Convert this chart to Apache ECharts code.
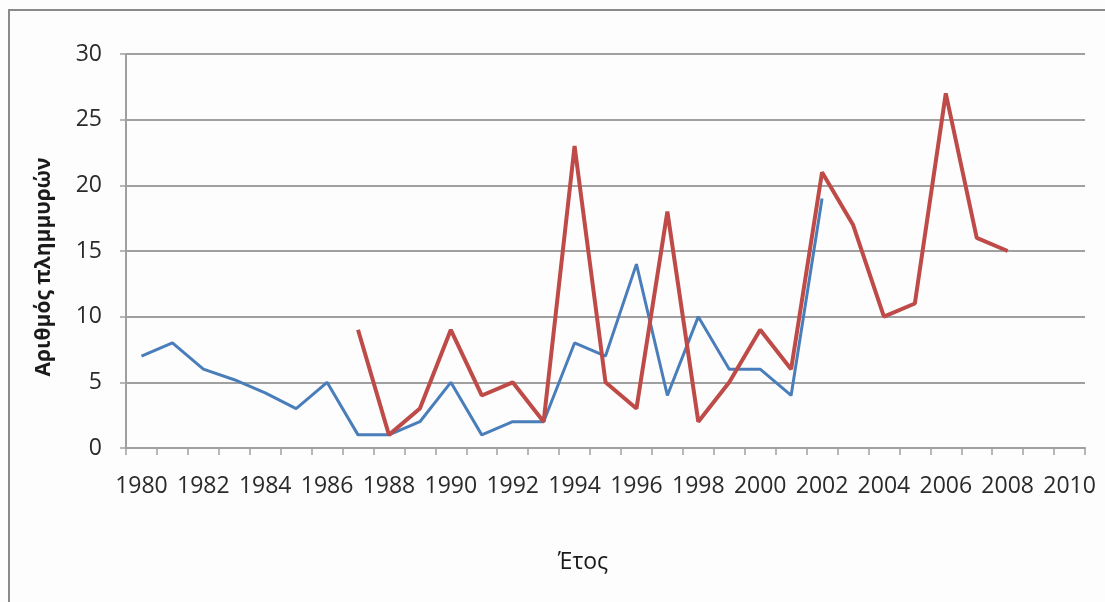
<!DOCTYPE html>
<html>
<head>
<meta charset="utf-8">
<script src="https://cdn.jsdelivr.net/npm/echarts@6/dist/echarts.min.js"></script>
<style>html,body{margin:0;padding:0;background:#fff;}#c{width:1105px;height:602px;}</style>
</head>
<body>
<div id="c"></div>
<script>
const years = [];
for (let y = 1980; y <= 2010; y++) years.push(String(y));
const blueSeries = [7, 8, 6, 5.2, 4.2, 3, 5, 1, 1, 2, 5, 1, 2, 2, 8, 7, 14, 4, 10, 6, 6, 4, 19, null, null, null, null, null, null, null, null];
const redSeries = [null, null, null, null, null, null, null, 9, 1, 3, 9, 4, 5, 2, 23, 5, 3, 18, 2, 5, 9, 6, 21, 17, 10, 11, 27, 16, 15, null, null];
const yTitle = 'Αριθμός πλημμυρών';
const xTitle = 'Έτος';

const chart = echarts.init(document.getElementById('c'));
const font = 'Open Sans';
chart.setOption({
  animation: false,
  backgroundColor: '#fdfdfd',
  graphic: [{
    type: 'rect', silent: true,
    shape: { x: 9, y: 10, width: 1110, height: 610 },
    style: { fill: 'none', stroke: '#8a8a8a', lineWidth: 2 }
  }],
  grid: { left: 126, right: 20, top: 54, bottom: 154 },
  xAxis: {
    type: 'category',
    data: years,
    boundaryGap: true,
    name: xTitle,
    nameLocation: 'middle',
    nameGap: 103,
    nameTextStyle: { fontFamily: font, fontSize: 23, color: '#1a1a1a', padding: [0, 45, 0, 0] },
    axisLine: { lineStyle: { color: '#a0a0a0', width: 2 } },
    axisTick: { show: true, interval: 0, length: 7, lineStyle: { color: '#a0a0a0', width: 1.5 } },
    axisLabel: { interval: 1, fontFamily: font, fontSize: 23, color: '#2a2a2a', margin: 27 },
    splitLine: { show: false }
  },
  yAxis: {
    type: 'value',
    min: 0, max: 30, interval: 5,
    name: yTitle,
    nameLocation: 'middle',
    nameGap: 71,
    nameTextStyle: { fontFamily: font, fontSize: 21, fontWeight: 'bold', color: '#1a1a1a', padding: [0, 32, 0, 0] },
    axisLine: { show: true, lineStyle: { color: '#a0a0a0', width: 2 } },
    axisTick: { show: true, length: 6, lineStyle: { color: '#a0a0a0', width: 1.5 } },
    axisLabel: { fontFamily: font, fontSize: 23, color: '#2a2a2a', margin: 24 },
    splitLine: { lineStyle: { color: '#a0a0a0', width: 2 } }
  },
  series: [
    {
      type: 'line', data: blueSeries, showSymbol: false, connectNulls: false,
      lineStyle: { color: '#4a7ebb', width: 3 }, itemStyle: { color: '#4a7ebb' }
    },
    {
      type: 'line', data: redSeries, showSymbol: false, connectNulls: false,
      lineStyle: { color: '#be4b48', width: 4 }, itemStyle: { color: '#be4b48' }
    }
  ]
});
</script>
</body>
</html>
